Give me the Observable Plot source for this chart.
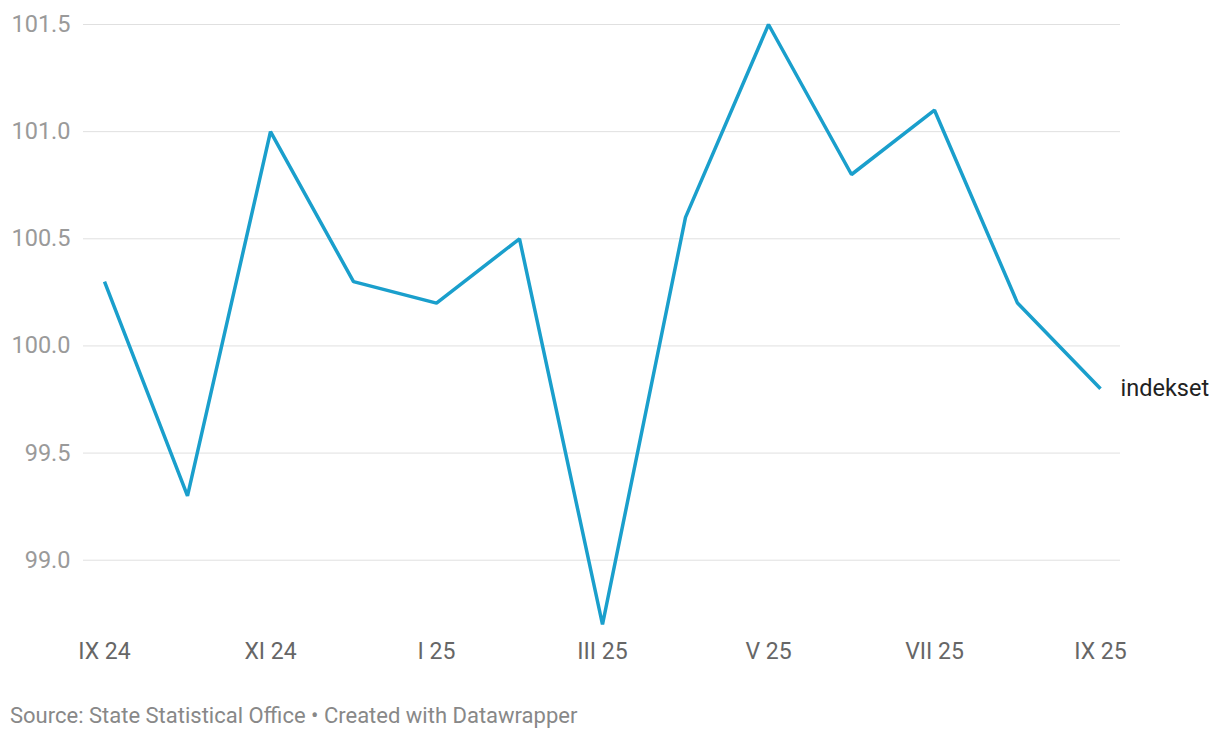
<!DOCTYPE html>
<html>
<head>
<meta charset="utf-8">
<script src="https://cdn.jsdelivr.net/npm/d3@7"></script>
<script src="https://cdn.jsdelivr.net/npm/@observablehq/plot@0.6"></script>
<style>
  html, body { margin: 0; padding: 0; background: #fff; }
  body { width: 1220px; height: 740px; font-family: Roboto, sans-serif; }
  #chart svg { display: block; }
  #caption { position: absolute; left: 10px; top: 703px; font-size: 22px; color: #888; font-family: Roboto, sans-serif; }
</style>
</head>
<body>
<div id="chart"></div>
<div id="caption">Source: State Statistical Office • Created with Datawrapper</div>
<script>
const months = ["IX 24","X 24","XI 24","XII 24","I 25","II 25","III 25","IV 25","V 25","VI 25","VII 25","VIII 25","IX 25"];
const values = [100.3, 99.3, 101.0, 100.3, 100.2, 100.5, 98.7, 100.6, 101.5, 100.8, 101.1, 100.2, 99.8];
const xTicks = ["IX 24","XI 24","I 25","III 25","V 25","VII 25","IX 25"];
const yTicks = [99.0, 99.5, 100.0, 100.5, 101.0, 101.5];
const seriesName = "indekset";

const data = months.map((m, i) => ({month: m, value: values[i]}));

const chart = Plot.plot({
  width: 1220,
  height: 680,
  marginLeft: 83,
  marginRight: 100,
  marginTop: 24,
  marginBottom: 56,
  style: {fontFamily: "Roboto, sans-serif", fontSize: "22px", background: "#fff"},
  x: {type: "point", domain: months, insetLeft: 20, insetRight: 20, padding: 0, label: null},
  y: {domain: [98.7, 101.5], label: null},
  marks: [
    Plot.ruleY(yTicks, {stroke: "#e0e0e0", strokeWidth: 1}),
    Plot.axisY({ticks: yTicks, tickSize: 0, tickPadding: 13, tickFormat: d => d.toFixed(1), fill: "#9a9a9a", fontSize: 23.5, label: null}),
    Plot.axisX({ticks: xTicks, tickSize: 0, tickPadding: 18, fill: "#666", fontSize: 23, label: null}),
    Plot.line(data, {x: "month", y: "value", stroke: "#1a9fcc", strokeWidth: 3.5, strokeLinejoin: "miter", strokeLinecap: "butt"}),
    Plot.text(data.slice(-1), {x: "month", y: "value", text: () => seriesName, dx: 20, textAnchor: "start", fill: "#222", fontSize: 23.5})
  ]
});
document.getElementById("chart").appendChild(chart);
</script>
</body>
</html>
